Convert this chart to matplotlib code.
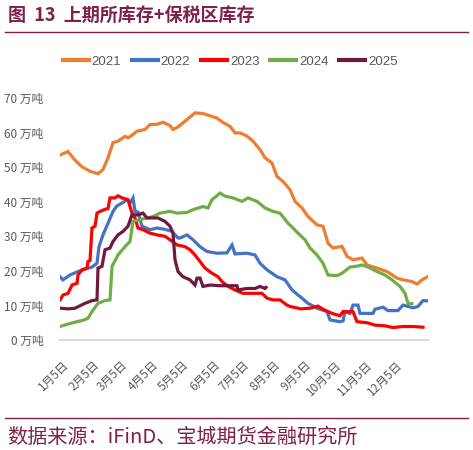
import matplotlib
matplotlib.use("Agg")
import matplotlib.pyplot as plt
from matplotlib.lines import Line2D

# --- data (x = day of year, y = 万吨) ---
years = ["2021", "2022", "2023", "2024", "2025"]

days_2021 = [2, 10, 17, 24, 32, 40, 45, 50, 55, 60, 67, 70, 73, 79, 87, 92, 99, 105, 112, 115,
             120, 127, 137, 145, 159, 165, 172, 177, 182, 189, 195, 202, 207, 214, 219, 225,
             232, 237, 244, 250, 259, 265, 270, 275, 284, 289, 295, 304, 309, 319, 329, 339,
             345, 354, 359, 364, 369]
vals_2021 = [53.5, 54.5, 52.0, 50.1, 48.8, 48.1, 49.3, 52.7, 57.1, 57.5, 58.9, 58.5, 59.0, 60.4,
             60.9, 62.3, 62.4, 63.0, 62.0, 60.9, 61.6, 63.3, 65.7, 65.5, 64.2, 62.9, 61.8, 59.9,
             59.9, 59.0, 57.5, 55.1, 52.7, 51.2, 47.3, 45.9, 43.5, 40.1, 38.2, 35.7, 33.3, 32.9,
             28.0, 26.6, 27.1, 24.2, 23.2, 23.7, 21.7, 20.8, 19.8, 17.9, 17.4, 16.9, 16.2, 17.4,
             18.2]

days_2022 = [2, 5, 12, 20, 27, 34, 39, 41, 45, 50, 55, 59, 64, 69, 72, 75, 77, 80, 84, 92, 99,
             107, 114, 120, 122, 129, 135, 142, 149, 159, 169, 174, 177, 189, 197, 202, 209, 219,
             227, 234, 240, 242, 250, 259, 269, 272, 282, 285, 287, 292, 295, 300, 302, 315, 317,
             325, 330, 340, 345, 350, 355, 360, 365, 370]
vals_2022 = [18.3, 17.4, 18.8, 19.8, 20.5, 21.1, 22.2, 27.0, 30.4, 33.8, 37.2, 38.8, 39.6, 40.6,
             39.6, 41.1, 37.2, 37.0, 32.9, 31.9, 32.4, 32.0, 31.4, 29.5, 29.5, 30.4, 29.0, 27.0,
             25.6, 25.1, 25.2, 27.5, 24.9, 25.1, 24.6, 22.2, 20.3, 18.3, 17.4, 14.5, 13.0, 12.6,
             10.6, 9.2, 8.2, 5.8, 5.3, 5.5, 8.2, 7.7, 10.1, 10.1, 7.7, 7.7, 8.9, 9.5, 8.5, 8.5,
             10.1, 9.7, 9.3, 9.7, 11.4, 11.3]

days_2023 = [2, 5, 10, 14, 19, 20, 24, 29, 30, 32, 34, 37, 39, 42, 47, 50, 52, 57, 60, 64, 70,
             74, 77, 80, 85, 92, 99, 107, 112, 119, 127, 132, 137, 142, 147, 154, 160, 164, 170,
             177, 185, 195, 204, 209, 215, 222, 229, 232, 240, 242, 252, 260, 265, 274, 282, 285,
             295, 299, 309, 317, 327, 335, 345, 355, 365]
vals_2023 = [11.6, 13.0, 13.5, 15.9, 16.4, 18.8, 20.3, 20.8, 22.7, 23.0, 32.4, 32.9, 36.7, 37.2,
             37.8, 38.0, 41.1, 41.1, 41.7, 41.1, 40.6, 36.7, 35.3, 32.4, 31.9, 30.9, 30.4, 30.0,
             29.0, 27.5, 27.0, 26.1, 24.6, 22.7, 20.8, 19.3, 18.3, 16.9, 15.5, 14.5, 13.5, 13.5,
             13.5, 12.1, 11.6, 11.6, 10.1, 9.7, 9.2, 9.0, 9.2, 9.8, 8.9, 7.7, 7.0, 8.2, 8.2, 5.3,
             5.0, 4.3, 4.1, 3.6, 3.9, 3.9, 3.7]

days_2024 = [2, 10, 19, 25, 30, 34, 40, 47, 52, 54, 60, 67, 72, 75, 82, 89, 95, 102, 112, 119,
             129, 135, 145, 150, 154, 162, 167, 175, 184, 190, 199, 207, 215, 222, 230, 235, 240,
             247, 252, 259, 265, 270, 279, 284, 292, 300, 304, 310, 319, 327, 334, 342, 347, 350,
             354]
vals_2024 = [3.9, 4.6, 5.3, 5.7, 6.3, 8.2, 10.6, 11.4, 11.6, 21.3, 24.6, 27.0, 28.5, 34.3, 34.8,
             35.3, 35.7, 36.7, 37.2, 36.7, 36.9, 37.7, 38.6, 38.2, 40.6, 42.5, 41.6, 41.1, 40.1,
             41.1, 40.1, 38.2, 37.2, 36.7, 33.8, 32.4, 30.9, 29.0, 26.6, 24.6, 22.2, 18.8, 18.6,
             19.3, 21.1, 21.4, 21.7, 21.1, 19.8, 18.8, 17.4, 15.5, 13.5, 10.6, 10.5]

days_2025 = [2, 10, 17, 22, 27, 34, 39, 40, 44, 47, 52, 55, 60, 65, 70, 74, 80, 85, 89, 94, 100,
             107, 112, 115, 117, 120, 125, 132, 137, 139, 142, 145, 152, 162, 172, 179, 180, 189,
             197, 202, 207, 208]
vals_2025 = [9.2, 9.0, 9.2, 9.9, 10.6, 11.4, 11.6, 20.8, 21.3, 26.1, 26.6, 28.5, 30.4, 31.4, 32.9,
             36.2, 36.2, 36.7, 35.3, 35.3, 35.3, 34.3, 32.9, 30.9, 23.2, 19.8, 18.3, 17.4, 15.9,
             17.9, 17.9, 15.5, 15.9, 15.7, 15.7, 15.7, 14.5, 14.9, 14.9, 15.5, 14.9, 15.2]

tick_days = [4, 35, 63, 94, 124, 155, 185, 216, 247, 277, 308, 338]
tick_labels = ["1月5日", "2月5日", "3月5日", "4月5日", "5月5日", "6月5日",
               "7月5日", "8月5日", "9月5日", "10月5日", "11月5日", "12月5日"]
y_ticks = [0, 10, 20, 30, 40, 50, 60, 70]

colors = ["#ED7D31", "#4472C4", "#FF0000", "#70AD47", "#70193D"]
maroon = "#7E2148"
grey = "#595959"
cjk = ["Noto Sans CJK SC", "DejaVu Sans"]

plt.rcParams["font.family"] = cjk

fig = plt.figure(figsize=(4.73, 4.5), dpi=100)
ax = fig.add_axes([60 / 473, 1 - 340 / 450, 368 / 473, 242 / 450])

series = [(days_2021, vals_2021), (days_2022, vals_2022), (days_2023, vals_2023),
          (days_2024, vals_2024), (days_2025, vals_2025)]
for (d, v), c, lab in zip(series, colors, years):
    ax.plot(d, v, color=c, lw=2.3, label=lab, solid_joinstyle="miter")

ax.set_xlim(2, 370)
ax.set_ylim(0, 70)
ax.set_yticks(y_ticks)
ax.set_yticklabels([f"{t} 万吨" for t in y_ticks], fontsize=8.5, color=grey)
ax.set_xticks(tick_days)
ax.set_xticklabels(tick_labels, rotation=45, ha="right", va="top",
                   rotation_mode="anchor", fontsize=8.5, color=grey)
ax.tick_params(axis="both", length=0)
ax.tick_params(axis="y", pad=12)
ax.tick_params(axis="x", pad=13)
for s in ["top", "right", "left"]:
    ax.spines[s].set_visible(False)
ax.spines["bottom"].set_color("#D9D9D9")
ax.spines["bottom"].set_linewidth(1.5)

handles = [Line2D([], [], color=c, lw=3) for c in colors]
leg = fig.legend(handles, years, loc="center", bbox_to_anchor=(230 / 473, 1 - 62 / 450),
                 ncol=5, frameon=False, handlelength=2.0, handletextpad=0.2,
                 columnspacing=0.8, prop={"family": ["Liberation Sans", "DejaVu Sans"],
                                          "size": 9.5})
for t in leg.get_texts():
    t.set_color(grey)

# title, rules and source
fig.text(8 / 473, 1 - 16 / 450, "图  13  上期所库存+保税区库存", fontsize=13,
         fontweight="bold", color=maroon, va="center", ha="left")
fig.add_artist(Line2D([5 / 473, 468 / 473], [1 - 32 / 450, 1 - 32 / 450], color=maroon, lw=1))
fig.add_artist(Line2D([5 / 473, 468 / 473], [1 - 418 / 450, 1 - 418 / 450], color=maroon, lw=1))
fig.text(7 / 473, 1 - 437 / 450, "数据来源：iFinD、宝城期货金融研究所", fontsize=14.5,
         color=maroon, va="center", ha="left")

fig.savefig("out.png", dpi=100)
